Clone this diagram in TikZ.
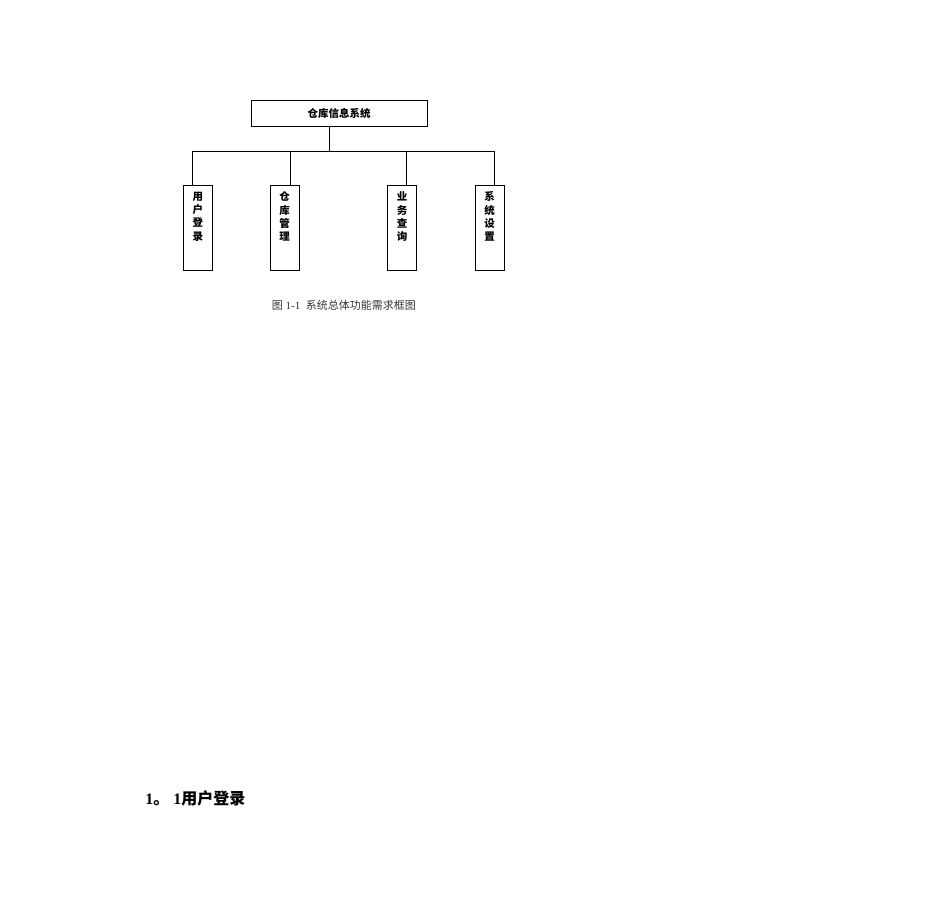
\documentclass[tikz,border=0pt]{standalone}
\usepackage{fontspec}
\setmainfont{Liberation Serif}
\newfontfamily\cjk{Noto Sans CJK SC}
\begin{document}
\begin{tikzpicture}[x=1pt,y=-1pt,line width=.7pt,
    topbox/.style={draw,minimum width=176,minimum height=26,inner sep=0,font=\cjk\bfseries\fontsize{10.5}{12}\selectfont},
    leafbox/.style={draw,anchor=north,minimum width=29.5,minimum height=85,inner sep=0,font=\cjk\bfseries\fontsize{10.5}{13.3}\selectfont}]
    \useasboundingbox(0,0)rectangle(950,911);
    \node[topbox](sys)at(339,113){仓库信息系统};
    \node[leafbox](yh)at(197.8,185){\parbox[c][85pt][t]{12pt}{\vspace{6.5pt}\centering 用\\户\\登\\录}};
    \node[leafbox](ck)at(284.7,185){\parbox[c][85pt][t]{12pt}{\vspace{6.5pt}\centering 仓\\库\\管\\理}};
    \node[leafbox](yw)at(402,185){\parbox[c][85pt][t]{12pt}{\vspace{6.5pt}\centering 业\\务\\查\\询}};
    \node[leafbox](xt)at(489.7,185){\parbox[c][85pt][t]{12pt}{\vspace{6.5pt}\centering 系\\统\\设\\置}};
    \coordinate(bus)at(329.3,151);
    \coordinate(d1)at(192.7,151);
    \coordinate(d2)at(290,151);
    \coordinate(d3)at(406.7,151);
    \coordinate(d4)at(494,151);
    \draw(sys.south-|bus)--(bus);
    \draw(d1)--(d4);
    \draw(d1)--(d1|-yh.north);
    \draw(d2)--(d2|-ck.north);
    \draw(d3)--(d3|-yw.north);
    \draw(d4)--(d4|-xt.north);
    \node[anchor=west,inner sep=0,text=black!80,font=\fontsize{11}{12}\selectfont](cap)at(271.5,305){{\cjk 图} 1-1\ \ {\cjk 系统总体功能需求框图}};
    \node[anchor=west,inner sep=0,font=\bfseries\fontsize{16}{18}\selectfont](sec)at(145,798){1{\cjk 。}\hspace{4pt}1{\cjk 用户登录}};
\end{tikzpicture}
\end{document}
